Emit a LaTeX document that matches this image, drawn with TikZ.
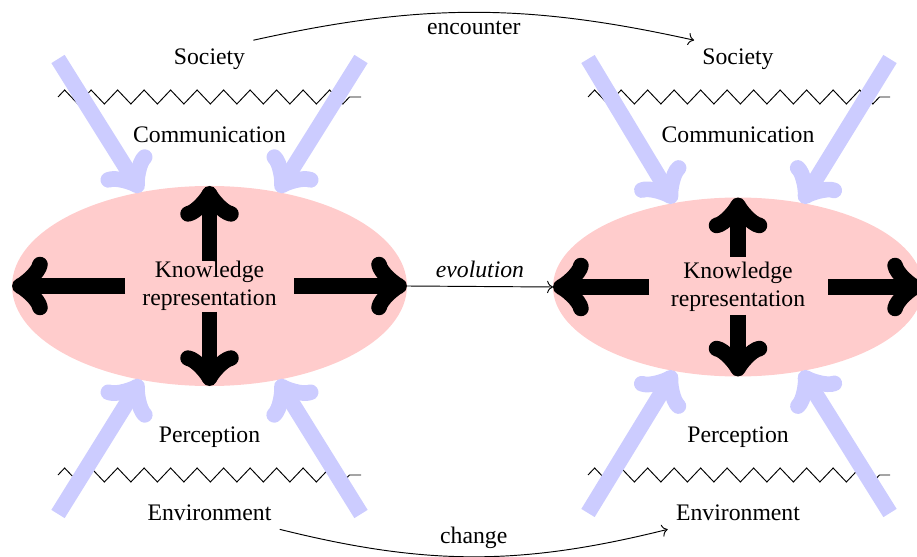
\documentclass[tikz,border=0pt]{standalone}
\usepackage{fontspec}
\setmainfont{Liberation Serif}
\usetikzlibrary{shapes.geometric,decorations.pathmorphing,calc,arrows.meta}
\pgfdeclarearrow{
  name = OldTo,
  parameters = {\the\pgfarrowlinewidth},
  setup code = {
    \pgfarrowlength=\dimexpr 0.28pt+0.3\pgfarrowlinewidth\relax
    \pgfarrowssettipend{0pt}
    \pgfarrowssetlineend{\dimexpr -0.5\pgfarrowlinewidth-0.75\pgfarrowlength\relax}
    \pgfarrowssetbackend{\dimexpr -\pgfarrowlinewidth-3.75\pgfarrowlength\relax}
    \pgfarrowssavethe\pgfarrowlength
    \pgfarrowssavethe\pgfarrowlinewidth
  },
  drawing code = {
    \pgfsetdash{}{0pt}
    \pgfsetroundcap\pgfsetroundjoin
    \pgfsetlinewidth{\pgfarrowlinewidth}
    \pgfpathmoveto{\pgfqpoint{\dimexpr-0.5\pgfarrowlinewidth-3.75\pgfarrowlength\relax}{4\pgfarrowlength}}
    \pgfpathcurveto
      {\pgfqpoint{\dimexpr-0.5\pgfarrowlinewidth-3.5\pgfarrowlength\relax}{2.5\pgfarrowlength}}
      {\pgfqpoint{\dimexpr-0.5\pgfarrowlinewidth-0.75\pgfarrowlength\relax}{0.25\pgfarrowlength}}
      {\pgfqpoint{-0.5\pgfarrowlinewidth}{0pt}}
    \pgfpathcurveto
      {\pgfqpoint{\dimexpr-0.5\pgfarrowlinewidth-0.75\pgfarrowlength\relax}{-0.25\pgfarrowlength}}
      {\pgfqpoint{\dimexpr-0.5\pgfarrowlinewidth-3.5\pgfarrowlength\relax}{-2.5\pgfarrowlength}}
      {\pgfqpoint{\dimexpr-0.5\pgfarrowlinewidth-3.75\pgfarrowlength\relax}{-4\pgfarrowlength}}
    \pgfusepathqstroke
  }
}
\begin{document}
\begin{tikzpicture}[x=0.4219pt,y=-0.4219pt,
  krbox/.style={ellipse, fill=red!20, align=center, inner sep=0pt, outer sep=0pt},
  blk/.style={line width=6.6pt,-{OldTo[line width=6.6pt]}},
  blu/.style={line width=6.6pt,-{OldTo[line width=6.6pt]},draw=blue!20},
  zz/.style={decorate, decoration={zigzag, segment length=11.18pt, amplitude=2.95pt}}]
\useasboundingbox (0,0) rectangle (917,557);
% zigzag coordinates
\coordinate (zt1a) at (58,97);  \coordinate (zt1b) at (361,97);
\coordinate (zb1a) at (58,475); \coordinate (zb1b) at (361,475);
\coordinate (zt2a) at (588,97); \coordinate (zt2b) at (890,97);
\coordinate (zb2a) at (588,475);\coordinate (zb2b) at (890,475);
\draw[zz] (zt1a) -- (zt1b);
\draw[zz] (zb1a) -- (zb1b);
\draw[zz] (zt2a) -- (zt2b);
\draw[zz] (zb2a) -- (zb2b);
% ellipses
\node[krbox, minimum width=166.6pt, minimum height=84.4pt] (kr1) at (209.5,286) {Knowledge\\representation};
\node[krbox, minimum width=156.1pt, minimum height=75.5pt] (kr2) at (738,287) {Knowledge\\representation};
% blue arrows
\coordinate (bul1) at (58,59);  \coordinate (bur1) at (361,59);
\coordinate (bll1) at (58,514); \coordinate (blr1) at (361,514);
\coordinate (bul2) at (588,59); \coordinate (bur2) at (890,59);
\coordinate (bll2) at (588,513);\coordinate (blr2) at (890,513);
\draw[blu] (bul1) -- (kr1.126);
\draw[blu] (bur1) -- (kr1.54);
\draw[blu] (bll1) -- (kr1.234);
\draw[blu] (blr1) -- (kr1.306);
\draw[blu] (bul2) -- (kr2.127);
\draw[blu] (bur2) -- (kr2.53);
\draw[blu] (bll2) -- (kr2.233);
\draw[blu] (blr2) -- (kr2.307);
% black arrows
\draw[blk] ($(kr1.center)+(0,-25)$) -- (kr1.north);
\draw[blk] ($(kr1.center)+(0,26)$) -- (kr1.south);
\draw[blk] ($(kr1.center)+(-84.5,0)$) -- (kr1.west);
\draw[blk] ($(kr1.center)+(84.5,0)$) -- (kr1.east);
\draw[blk] ($(kr2.center)+(0,-30)$) -- (kr2.north);
\draw[blk] ($(kr2.center)+(0,28)$) -- (kr2.south);
\draw[blk] ($(kr2.center)+(-89,0)$) -- (kr2.west);
\draw[blk] ($(kr2.center)+(90,0)$) -- (kr2.east);
% labels
\node (soc1) at (209.5,59) {Society};
\node (com1) at (209.5,135) {Communication};
\node (per1) at (209.5,437) {Perception};
\node (env1) at (209.5,513) {Environment};
\node (soc2) at (738,59) {Society};
\node (com2) at (738,135) {Communication};
\node (per2) at (738,437) {Perception};
\node (env2) at (738,513) {Environment};
% thin connectors
\draw[->] (kr1.east) -- node[above] {\textit{evolution}} (kr2.west);
\draw[->] (soc1.north east) to[bend left=12.5] node[below] {encounter} (soc2.north west);
\draw[->] (env1.south east) to[bend right=14] node[above] {change} (env2.south west);
\end{tikzpicture}
\end{document}
